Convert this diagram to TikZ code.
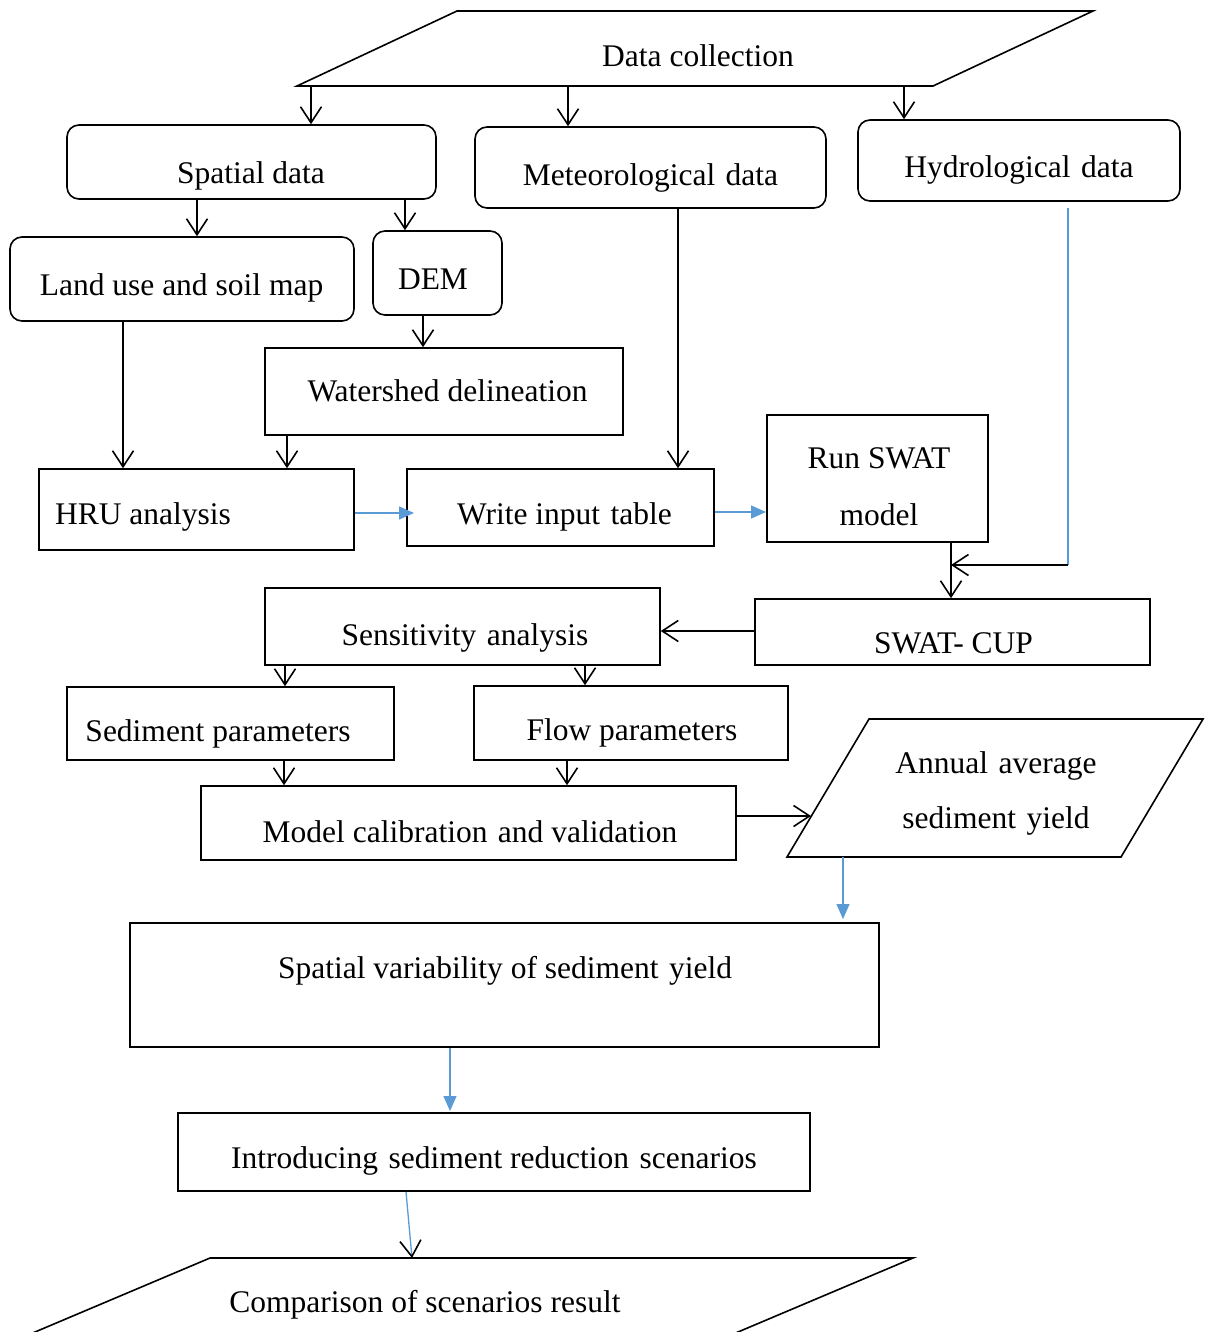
\documentclass[tikz,border=0pt]{standalone}
\usepackage{fontspec}
\setmainfont{Liberation Serif}
\usetikzlibrary{arrows.meta,fit}
\definecolor{lblue}{RGB}{91,155,213}
\newcommand{\wsp}{\hspace{0.33em}}
\begin{document}
\begin{tikzpicture}[x=1pt,y=-1pt,
  box/.style={draw, line width=1.6pt, inner sep=0pt},
  rbox/.style={box, rounded corners=12pt},
  txt/.style={font=\fontsize{31.5}{38}\selectfont, inner sep=0pt, text height=0.7em, text depth=0.22em, yshift=-5pt},
  arr/.style={line width=1.6pt, -{Straight Barb[length=16pt,width=21pt,line width=1.6pt]}},
  barr/.style={lblue, line width=1.3pt, -{Triangle[length=15pt,width=13pt]}},
  pshape/.style={draw, line width=1.6pt}
]
\useasboundingbox (0,0) rectangle (1206,1332);
\clip (0,0) rectangle (1206,1332);

% Data collection parallelogram
\draw[pshape] (457,11) -- (1093,11) -- (933,86) -- (297,86) -- cycle;
\node[txt] (dctext) at (698,59) {Data collection};
\coordinate (dc1) at (311,86);
\coordinate (dc2) at (568,86);
\coordinate (dc3) at (904,86);

% boxes
\node[rbox, fit={(67,125) (436,199)}] (spatial) {};
\node[txt] (spatialt) at (251,176) {Spatial data};
\node[rbox, fit={(475,127) (826,208)}] (meteo) {};
\node[txt] (meteot) at (650.5,178) {Meteorological\wsp data};
\node[rbox, fit={(858,120) (1180,201)}] (hydro) {};
\node[txt] (hydrot) at (1019,170) {Hydrological\wsp data};
\node[rbox, fit={(10,237) (354,321)}] (landuse) {};
\node[txt] (landuset) at (181.5,288) {Land use and soil map};
\node[rbox, fit={(373,231) (502,315)}] (dem) {};
\node[txt] (demt) at (433,282) {DEM};
\node[box, fit={(265,348) (623,435)}] (water) {};
\node[txt] (watert) at (447.5,394) {Watershed delineation};
\node[box, fit={(39,469) (354,550)}] (hru) {};
\node[txt] (hrut) at (143,517) {HRU analysis};
\node[box, fit={(407,469) (714,546)}] (write) {};
\node[txt] (writet) at (564.5,517) {Write input\wsp table};
\node[box, fit={(767,415) (988,542)}] (run) {};
\node[txt] (runt1) at (879,461) {Run SWAT};
\node[txt] (runt2) at (879,518) {model};
\node[box, fit={(755,599) (1150,665)}] (cup) {};
\node[txt] (cupt) at (953.5,646) {SWAT- CUP};
\node[box, fit={(265,588) (660,665)}] (sens) {};
\node[txt] (senst) at (465,638) {Sensitivity\wsp analysis};
\node[box, fit={(67,687) (394,760)}] (sedp) {};
\node[txt] (sedpt) at (218,734) {Sediment parameters};
\node[box, fit={(474,686) (788,760)}] (flowp) {};
\node[txt] (flowpt) at (632,733) {Flow parameters};
\node[box, fit={(201,786) (736,860)}] (model) {};
\node[txt] (modelt) at (470,835) {Model calibration\wsp and validation};
\node[box, fit={(130,923) (879,1047)}] (spatvar) {};
\node[txt] (spatvart) at (505,971) {Spatial variability of sediment\wsp yield};
\node[box, fit={(178,1113) (810,1191)}] (intro) {};
\node[txt] (introt) at (494,1161) {Introducing\wsp sediment reduction\wsp scenarios};

% Annual average parallelogram
\draw[pshape] (869,719) -- (1203,719) -- (1121,857) -- (787,857) -- cycle;
\node[txt] (ann1) at (996,766) {Annual\wsp average};
\node[txt] (ann2) at (996,821) {sediment\wsp yield};
\coordinate (annL) at (811,816);
\coordinate (annB) at (843,857);

% Comparison parallelogram (clipped)
\draw[pshape] (-7.6,1350) -- (210,1258) -- (913,1258) -- (695.4,1350);
\node[txt] (compt) at (425,1305) {Comparison of scenarios result};
\coordinate (compT) at (412,1258);

% connectors
\draw[arr] (dc1) -- (spatial.north -| dc1);
\draw[arr] (dc2) -- (meteo.north -| dc2);
\draw[arr] (dc3) -- (hydro.north -| dc3);
\draw[arr] (spatial.south -| 197,0) -- (landuse.north -| 197,0);
\draw[arr] (spatial.south -| 405,0) -- (dem.north -| 405,0);
\draw[arr] (dem.south -| 423,0) -- (water.north -| 423,0);
\draw[arr] (landuse.south -| 123,0) -- (hru.north -| 123,0);
\draw[arr] (water.south -| 287,0) -- (hru.north -| 287,0);
\draw[arr] (meteo.south -| 678,0) -- (write.north -| 678,0);
\draw[barr] (hru.east |- 0,513) -- (414,513);
\draw[barr] (write.east |- 0,512) -- (766,512);
\coordinate (hs) at (1068,208);
\coordinate (hc) at (1068,565);
\draw[lblue, line width=1.3pt] (hs) -- (hc);
\draw[arr] (hc) -- (951,565);
\draw[arr] (run.south -| 951,0) -- (cup.north -| 951,0);
\draw[arr] (cup.west |- 0,631) -- (sens.east |- 0,631);
\draw[arr] (sens.south -| 285,0) -- (sedp.north -| 285,0);
\draw[arr] (sens.south -| 585,0) -- (flowp.north -| 585,0);
\draw[arr] (sedp.south -| 284,0) -- (model.north -| 284,0);
\draw[arr] (flowp.south -| 567,0) -- (model.north -| 567,0);
\draw[arr] (model.east |- annL) -- (annL);
\draw[barr] (annB) -- (843,919);
\draw[barr] (spatvar.south -| 450,0) -- (450,1111);
\draw[lblue, line width=1.3pt, -{Straight Barb[length=16pt,width=21pt,line width=1.6pt,color=black]}] (intro.south -| 406,0) -- (compT);
\end{tikzpicture}
\end{document}
